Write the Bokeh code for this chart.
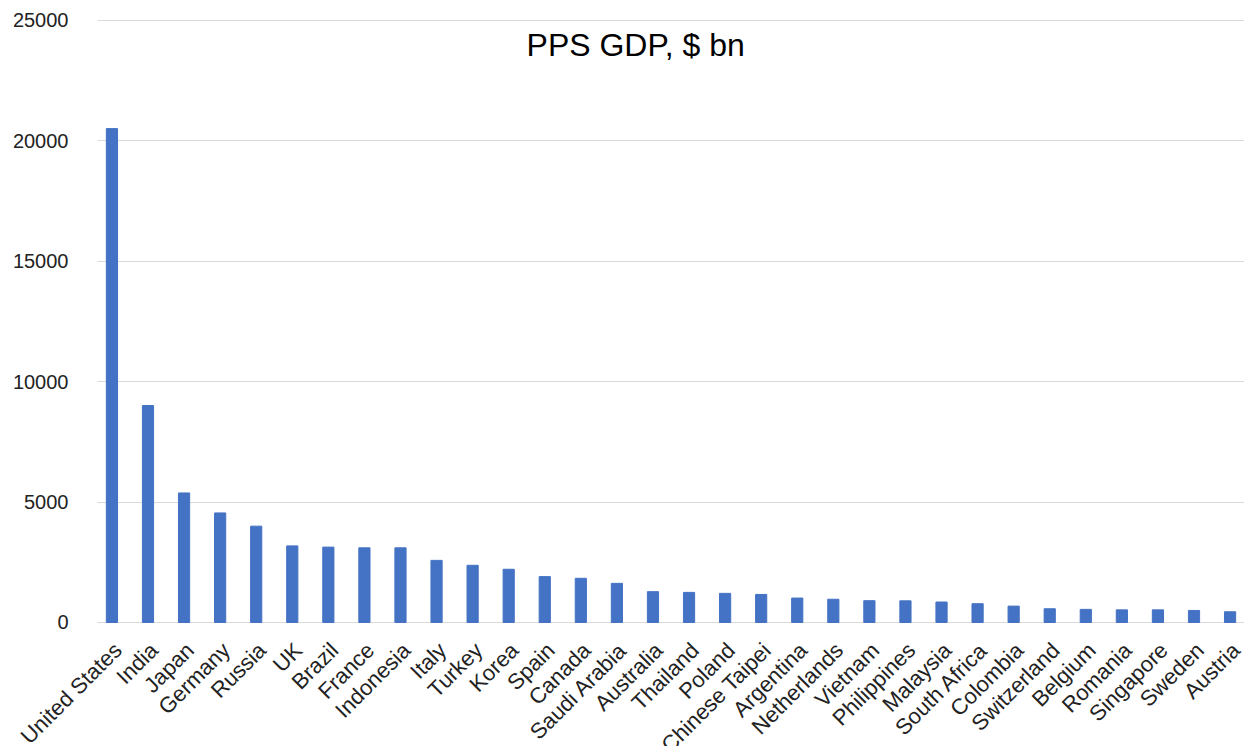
from bokeh.plotting import figure
from bokeh.models import ColumnDataSource, FactorRange, Range1d, FixedTicker, Label
from bokeh.core.properties import value
from bokeh.embed import file_html
from bokeh.resources import INLINE
import math

# Purchasing-power GDP by country, $ bn
countries = [
    "United States", "India", "Japan", "Germany", "Russia", "UK", "Brazil",
    "France", "Indonesia", "Italy", "Turkey", "Korea", "Spain", "Canada",
    "Saudi Arabia", "Australia", "Thailand", "Poland", "Chinese Taipei",
    "Argentina", "Netherlands", "Vietnam", "Philippines", "Malaysia",
    "South Africa", "Colombia", "Switzerland", "Belgium", "Romania",
    "Singapore", "Sweden", "Austria",
]
gdp_bn = [
    20510, 9010, 5380, 4550, 4000, 3180, 3130, 3100, 3100, 2580, 2375, 2210,
    1905, 1835, 1625, 1280, 1250, 1210, 1165, 1015, 965, 905, 900, 850,
    780, 680, 570, 545, 525, 525, 500, 445,
]
y_ticks = [0, 5000, 10000, 15000, 20000, 25000]

FONT = "Liberation Sans"

source = ColumnDataSource(data=dict(
    country=countries,
    gdp=gdp_bn,
    base=[0] * len(countries),
))

# The frame runs to the bottom of the canvas; the rotated category
# names hang below zero and are cut by the page edge.
p = figure(
    width=1244, height=746,
    x_range=FactorRange(*countries, range_padding=-0.1,
                        range_padding_units="absolute"),
    y_range=Range1d(-5150, 25415),
    output_backend="svg", toolbar_location=None,
    min_border_left=97, min_border_right=0,
    min_border_top=10, min_border_bottom=0,
)

p.vbar(x="country", top="gdp", width=0.31, source=source,
       fill_color="#4472C4", line_color="#4472C4")

p.outline_line_color = None
p.xgrid.grid_line_color = None
p.ygrid.grid_line_color = "#dadada"
p.ygrid.grid_line_width = 1

p.xaxis.visible = False

yaxis = p.yaxis[0]
yaxis.ticker = FixedTicker(ticks=y_ticks)
yaxis.axis_line_color = None
yaxis.major_tick_line_color = None
yaxis.minor_tick_line_color = None
yaxis.major_label_standoff = 23
yaxis.major_label_text_font = FONT
yaxis.major_label_text_font_size = "20px"
yaxis.major_label_text_color = "#222222"

# Rotated country names under each bar, drawn on the overlay level so
# the long first name may run into the left margin.
p.text(
    x="country", y="base", text="country", source=source,
    angle=math.pi / 4, text_align="right", text_baseline="middle",
    x_offset=6, y_offset=24, level="overlay",
    text_font=value(FONT), text_font_size="22px", text_color="#222222",
)

p.add_layout(Label(
    x=15.02, y=24000, text="PPS GDP, $ bn",
    text_align="center", text_baseline="alphabetic",
    text_font=FONT, text_font_size="32px", text_color="#000000",
))

open("out.html", "w").write(file_html(p, INLINE))
